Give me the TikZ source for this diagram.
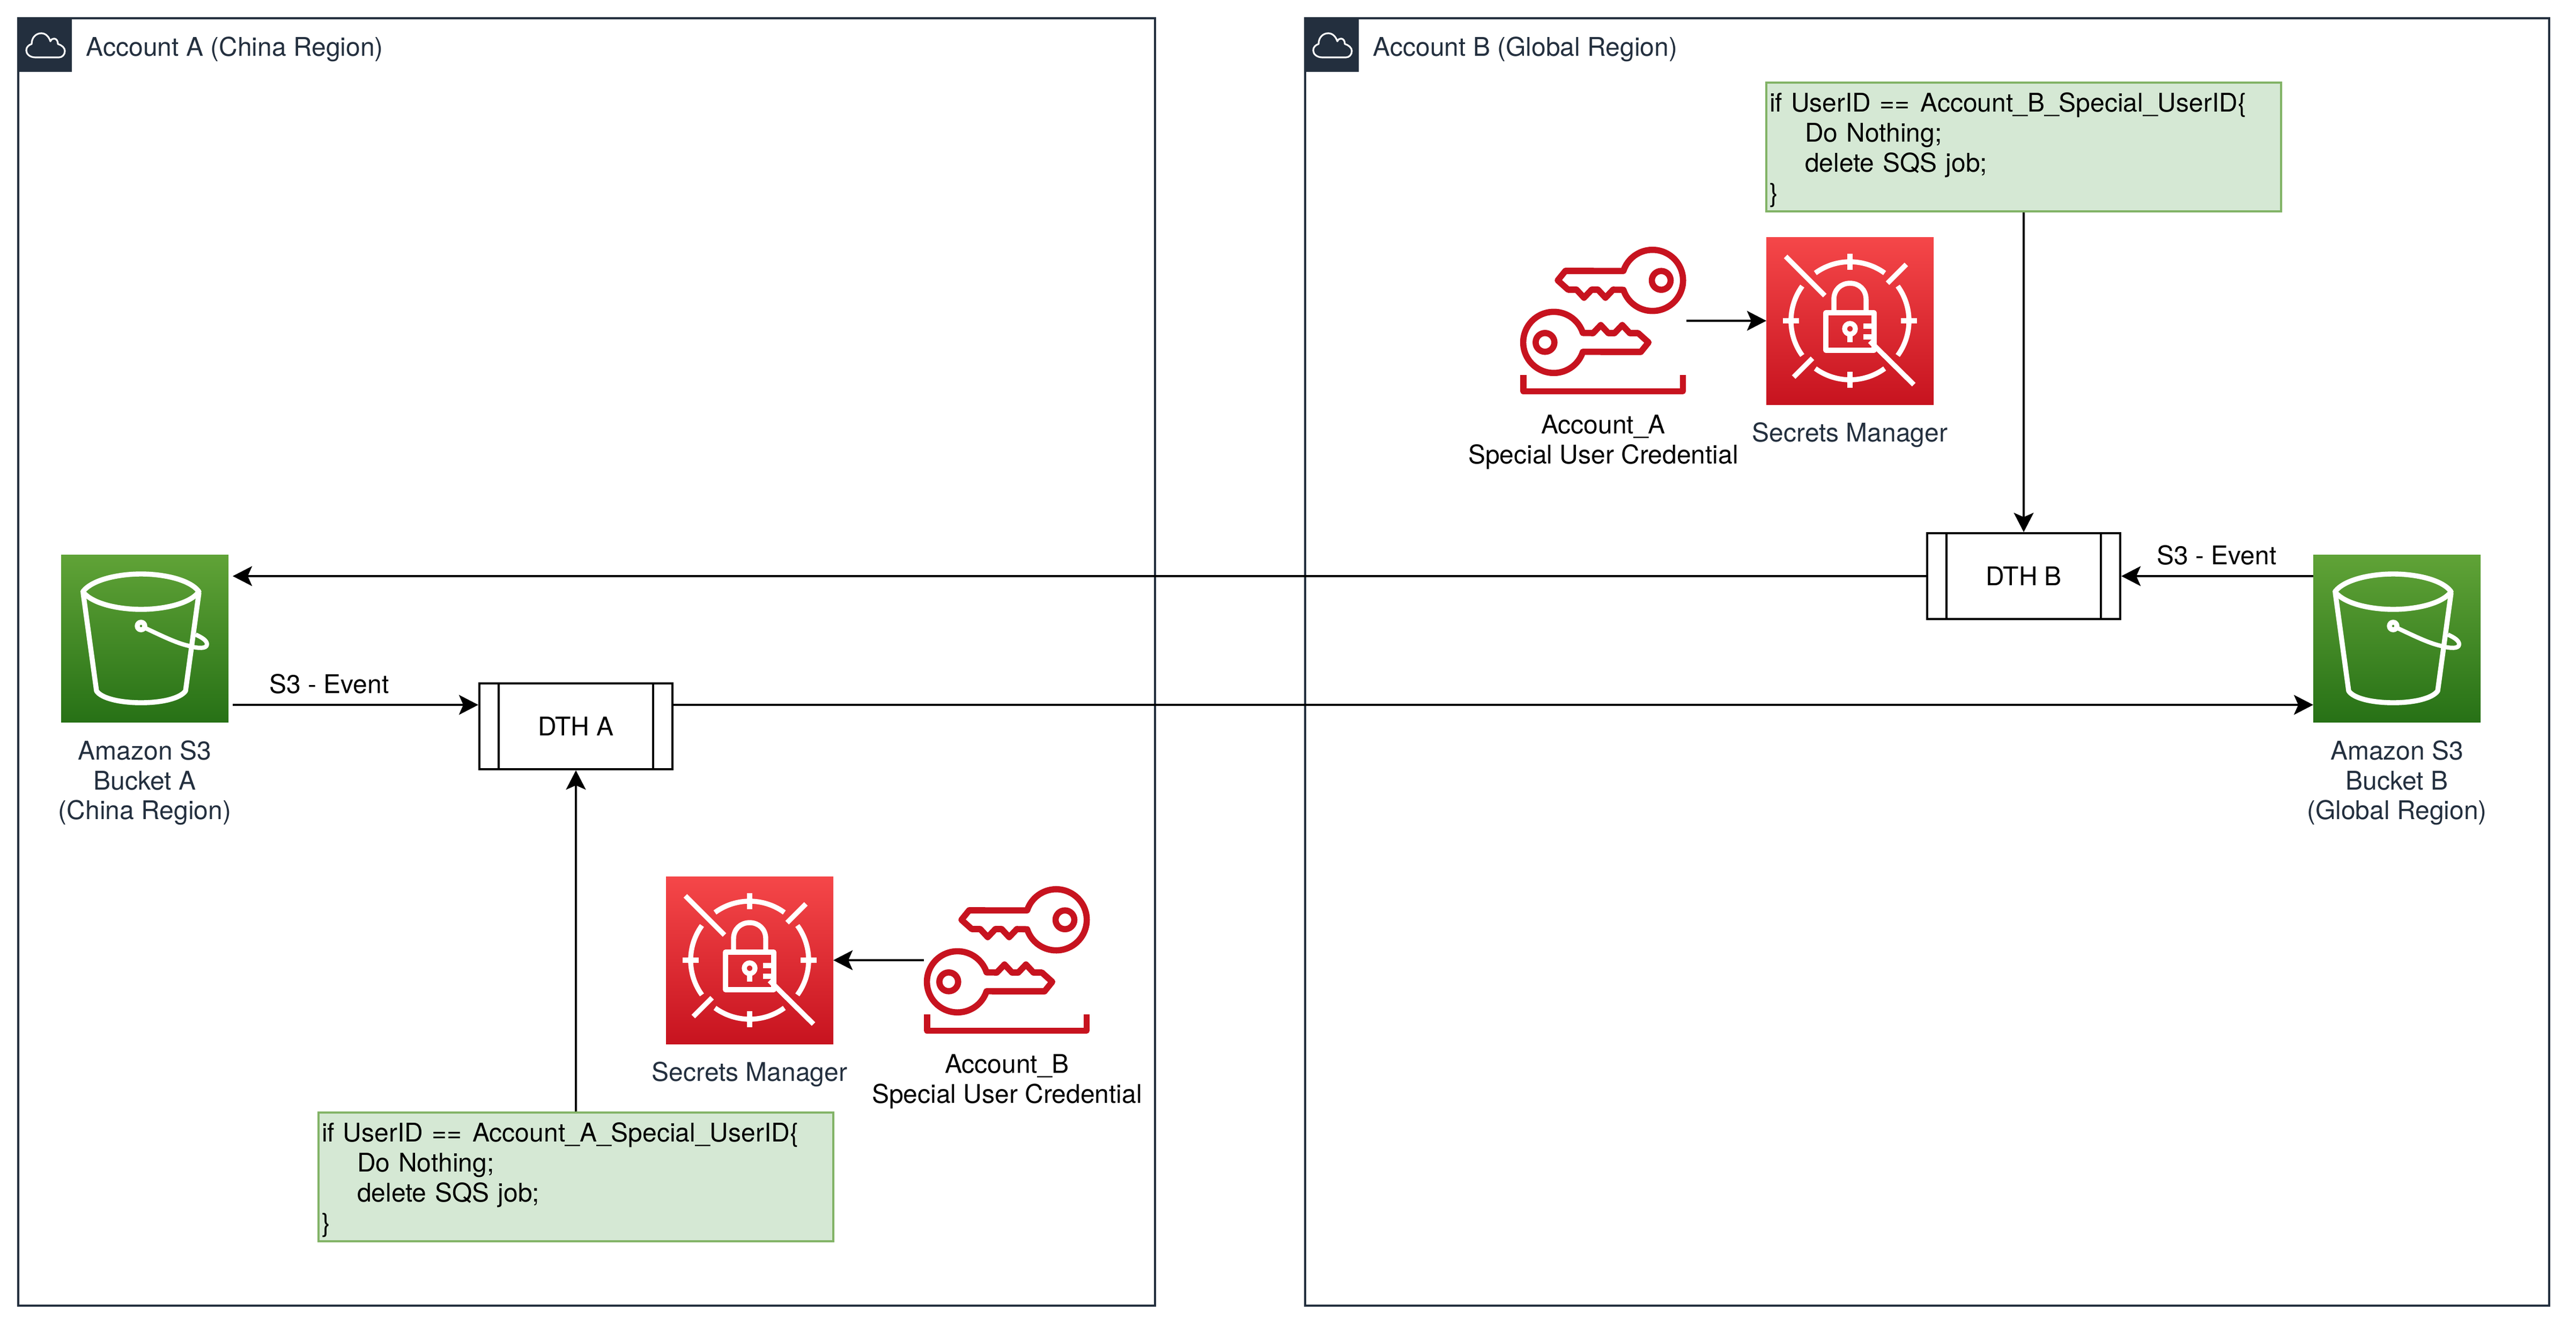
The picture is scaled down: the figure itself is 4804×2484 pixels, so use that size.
\documentclass[tikz,border=0pt]{standalone}
\usepackage{fontspec}
\setmainfont{TeX Gyre Heros}
\usetikzlibrary{arrows.meta}
\definecolor{awsdark}{HTML}{232F3E}
\definecolor{s3top}{HTML}{60A337}
\definecolor{s3bot}{HTML}{277116}
\definecolor{sectop}{HTML}{F54749}
\definecolor{secbot}{HTML}{C7131F}
\definecolor{keyred}{HTML}{C7131F}
\definecolor{greenfill}{HTML}{D5E8D4}
\definecolor{greenline}{HTML}{82B366}
\tikzset{
  x=0.25pt, y=-0.25pt,
  every node/.style={font=\fontsize{12}{14}\selectfont, inner sep=0pt},
  frame/.style={draw=awsdark, line width=1pt, anchor=north west, outer sep=0pt},
  headsq/.style={fill=awsdark, minimum size=25.5pt, anchor=north west, outer sep=0pt},
  headtxt/.style={text=awsdark, anchor=base west},
  s3sq/.style={top color=s3top, bottom color=s3bot, minimum size=78pt, anchor=north west, outer sep=0pt},
  secsq/.style={top color=sectop, bottom color=secbot, minimum size=78pt, anchor=north west, outer sep=0pt},
  keybox/.style={minimum width=77.5pt, minimum height=69pt, anchor=north west, outer sep=0pt},
  dth/.style={draw=black, fill=white, line width=1pt, minimum width=90pt, minimum height=40pt, anchor=north west},
  greenbox/.style={draw=greenline, fill=greenfill, line width=1pt, minimum width=240pt, minimum height=60pt,
     anchor=north west, align=left, text width=237pt, inner xsep=1.5pt},
  conn/.style={draw=black, line width=1pt, -{Stealth[length=9pt,width=9.2pt,inset=2pt]}},
  blacklabel/.style={text=black, anchor=base},
  darklabel/.style={text=awsdark, anchor=base},
  glyph/.style={draw=white, line width=2.35pt, line join=round},
  keyline/.style={draw=keyred, line width=2.9pt, line join=round},
  cloudglyph/.pic={
    \draw[white, line width=0.8pt, line join=round]
      (34,75) .. controls (24,75) and (17,69) .. (17,62)
      .. controls (17,56) and (21,52) .. (27,50)
      .. controls (27,38) and (35,30) .. (45,30)
      .. controls (53,30) and (59,36) .. (62,45)
      .. controls (64,41) and (66,40) .. (69,40)
      .. controls (73,40) and (76,44) .. (76,50)
      .. controls (83,52) and (89,57) .. (89,63)
      .. controls (89,70) and (84,75) .. (78,75) -- cycle;
  },
  bucketglyph/.pic={
    \draw[glyph]
      (40.5,69) .. controls (58,46) and (108,36) .. (149,36)
      .. controls (190,36) and (240,46) .. (257,69)
      .. controls (240,92) and (190,102) .. (149,102)
      .. controls (108,102) and (58,92) .. (40.5,69) -- cycle;
    \draw[glyph] (41,71) -- (66,254)
      .. controls (75,268) and (110,276) .. (149,276)
      .. controls (188,276) and (222,268) .. (232,254) -- (257,71);
    \draw[glyph] (149,133) circle[radius=7];
    \draw[white, line width=2pt, line join=round]
      (155,136) .. controls (185,150) and (215,165) .. (238,170)
      .. controls (255,175) and (272,176) .. (272,167)
      .. controls (272,160) and (262,154) .. (251,149);
  },
  secretglyph/.pic={
    \begin{scope}[shift={(156,156)}]
      \foreach \a [evaluate=\a as \lo using \a-36, evaluate=\a as \hi using \a+36] in {0,90,180,270}
        \draw[glyph] plot[smooth, domain=\lo:\hi, samples=25] ({110*cos(\x)},{110*sin(\x)});
      \draw[glyph] (95,0) -- (125,0);
      \draw[glyph] (-95,0) -- (-125,0);
      \draw[glyph] (0,95) -- (0,125);
      \draw[glyph] (0,-95) -- (0,-125);
      \draw[glyph] (70,-70) -- (105,-105);
      \draw[glyph] (-70,70) -- (-105,105);
      \draw[glyph] (-120,-120) -- (-47,-47);
      \draw[glyph] (37,38) -- (119,119);
      \draw[glyph] (-45,-15) rectangle (45,55);
      \draw[glyph] (-30,-15) -- (-30,-40)
        .. controls (-30,-58) and (-17,-70) .. (0,-70)
        .. controls (17,-70) and (30,-58) .. (30,-40) -- (30,-15);
      \draw[glyph] (0,15) circle[radius=10];
      \draw[glyph] (0,25) -- (0,40);
      \draw[glyph] (25,10) -- (45,10);
      \draw[glyph] (25,30) -- (45,30);
    \end{scope}
  },
  keysglyph/.pic={
    % upper key, head on the right
    \draw[keyline] plot[smooth, domain=162:-162, samples=50] ({246.7+57*cos(\x)},{62.7+57*sin(\x)})
      -- (84.3,45) -- (70,62.7) -- (89.3,80) -- (105,80) -- (119,95) -- (133.3,80)
      -- (145,80) -- (159,95) -- (173.3,80) -- cycle;
    \draw[keyline] (263,62.7) circle[radius=17.5];
    % lower key, head on the left
    \draw[keyline] plot[smooth, domain=-18:-342, samples=50] ({62.6+57*cos(\x)},{178.3+57*sin(\x)})
      -- (225,196) -- (239.3,178.3) -- (220,161) -- (204.3,161) -- (190.3,146) -- (176,161)
      -- (164.3,161) -- (150.3,146) -- (136,161) -- cycle;
    \draw[keyline] (46.3,178.3) circle[radius=17.5];
    % tray
    \draw[keyline] (5.8,239) -- (5.8,269.3) -- (303.3,269.3) -- (303.3,239);
  }
}
\newcommand{\greentext}[1]{\rule{0pt}{12pt}if UserID ==\hspace{5pt}Account\_#1\_Special\_UserID\{\\
\hspace*{16.5pt}Do Nothing;\\
\hspace*{16.5pt}delete SQS job;\\
\}}
\begin{document}
\begin{tikzpicture}
\useasboundingbox (0,0) rectangle (4804,2484);
\fill[white] (0,0) rectangle (4804,2484);

% account frames
\node[frame, minimum width=530pt, minimum height=600pt] (frameA) at (34,34) {};
\node[frame, minimum width=580pt, minimum height=600pt] (frameB) at (2434,34) {};
\node[headsq] (headA) at (32,32) {};
\node[headsq] (headB) at (2432,32) {};
\pic at (headA.north west) {cloudglyph};
\pic at (headB.north west) {cloudglyph};
\node[headtxt] (titleA) at (160,104) {Account A (China Region)};
\node[headtxt] (titleB) at (2560,104) {Account B (Global Region)};

% S3 icons
\node[s3sq] (s3a) at (114,1034) {};
\node[s3sq] (s3b) at (4314,1034) {};
\pic at (s3a.north west) {bucketglyph};
\pic at (s3b.north west) {bucketglyph};
\node[darklabel] (s3aL1) at (270,1416) {Amazon S3};
\node[darklabel] (s3aL2) at (270,1472) {Bucket A};
\node[darklabel] (s3aL3) at (270,1527) {(China Region)};
\node[darklabel] (s3bL1) at (4470,1416) {Amazon S3};
\node[darklabel] (s3bL2) at (4470,1472) {Bucket B};
\node[darklabel] (s3bL3) at (4470,1527) {(Global Region)};
\coordinate (s3aIn) at (434,1074);
\coordinate (s3aOut) at (434,1314);

% DTH boxes
\node[dth] (dtha) at (892,1272) {DTH A};
\draw[line width=1pt] (930,1274) -- (930,1434) (1218,1274) -- (1218,1434);
\node[dth] (dthb) at (3592,992) {DTH B};
\draw[line width=1pt] (3630,994) -- (3630,1154) (3918,994) -- (3918,1154);

% Secrets Manager
\node[secsq] (seca) at (1242,1634) {};
\node[secsq] (secb) at (3294,442) {};
\pic at (seca.north west) {secretglyph};
\pic at (secb.north west) {secretglyph};
\node[darklabel] (secaL) at (1398,2015) {Secrets Manager};
\node[darklabel] (secbL) at (3450,823) {Secrets Manager};

% keys
\node[keybox] (keya) at (1723,1652) {};
\node[keybox] (keyb) at (2835,460) {};
\pic at (keya.north west) {keysglyph};
\pic at (keyb.north west) {keysglyph};
\node[blacklabel] (keyaL1) at (1878,2000) {Account\_B};
\node[blacklabel] (keyaL2) at (1878,2056) {Special User Credential};
\node[blacklabel] (keybL1) at (2990,808) {Account\_A};
\node[blacklabel] (keybL2) at (2990,864) {Special User Credential};

% rule boxes
\node[greenbox] (greena) at (592,2072) {\greentext{A}};
\node[greenbox] (greenb) at (3292,152) {\greentext{B}};

% event labels
\node[blacklabel] (evA) at (614,1292) {S3 - Event};
\node[blacklabel] (evB) at (4134,1052) {S3 - Event};

% connectors
\draw[conn] (s3aOut) -- ([yshift=10pt]dtha.west);
\draw[conn] ([yshift=10pt]dtha.east) -- (s3b.west |- s3aOut);
\draw[conn] (s3b.west |- s3aIn) -- (dthb.east);
\draw[conn] (dthb.west) -- (s3aIn);
\draw[conn] (greena.north) -- (dtha.south);
\draw[conn] (greenb.south) -- (dthb.north);
\draw[conn] (keya.west) -- (seca.east);
\draw[conn] (keyb.east) -- (secb.west |- keyb.east);
\end{tikzpicture}
\end{document}
